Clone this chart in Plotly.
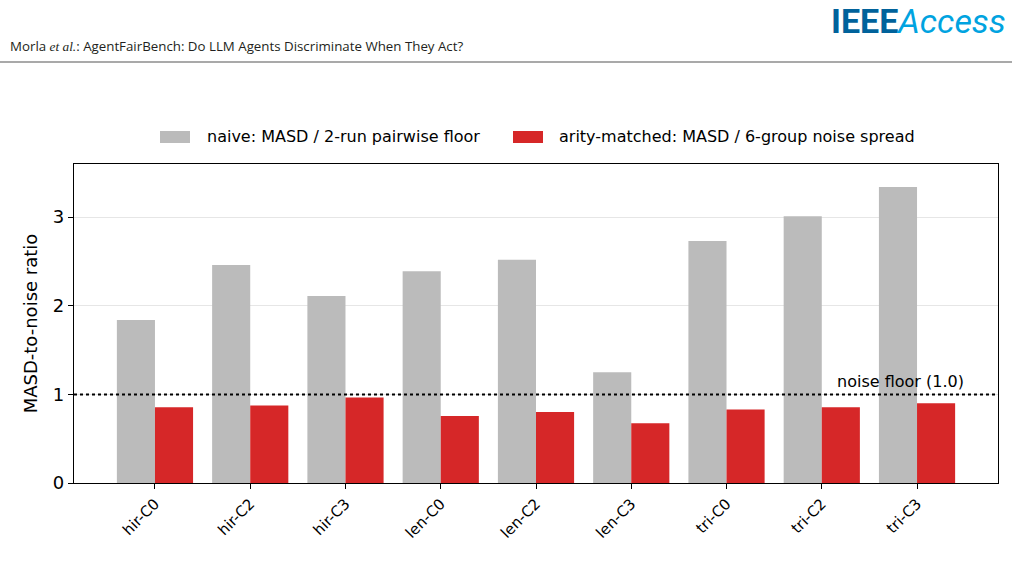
import plotly.graph_objects as go

categories = ["hir-C0", "hir-C2", "hir-C3", "len-C0", "len-C2", "len-C3", "tri-C0", "tri-C2", "tri-C3"]
naive = [1.84, 2.46, 2.11, 2.39, 2.52, 1.25, 2.73, 3.01, 3.34]
arity = [0.855, 0.875, 0.965, 0.755, 0.80, 0.675, 0.83, 0.855, 0.90]
series_names = ["naive: MASD / 2-run pairwise floor", "arity-matched: MASD / 6-group noise spread"]
series_colors = ["#bbbbbb", "#d62728"]
y_ticks = [0, 1, 2, 3]
noise_floor = 1.0

W, H = 1019, 577
L, R, T, B = 74, 21, 164, 94
pw, ph = W - L - R, H - T - B

def px_x(x):
    return (x - L) / pw

def px_y(y):
    return (H - B - y) / ph

FONT = "DejaVu Sans"

fig = go.Figure()
for vals, name, col in zip([naive, arity], series_names, series_colors):
    fig.add_trace(go.Bar(x=categories, y=vals, name=name, showlegend=False,
                         marker=dict(color=col, line=dict(width=0))))

# manual legend (wide swatches like the reference)
legend_pos = [(160, 190, 205), (513, 543, 557)]
for (sx0, sx1, tx), name, col in zip(legend_pos, series_names, series_colors):
    fig.add_shape(type="rect", xref="paper", yref="paper", x0=px_x(sx0), x1=px_x(sx1),
                  y0=px_y(143), y1=px_y(131), fillcolor=col, line=dict(width=0))
    fig.add_annotation(xref="paper", yref="paper", x=px_x(tx), y=px_y(137), xanchor="left", yanchor="middle",
                       text=name, showarrow=False, font=dict(family=FONT, size=16, color="black"))

fig.add_shape(type="line", xref="paper", yref="y", x0=0, x1=1, y0=noise_floor, y1=noise_floor,
              line=dict(color="black", width=2, dash="dot"))
fig.add_annotation(xref="paper", yref="y", x=px_x(966), y=noise_floor, yshift=13,
                   text="noise floor (1.0)", showarrow=False, xanchor="right", yanchor="middle",
                   font=dict(family=FONT, size=16, color="black"))

# page header
fig.add_annotation(xref="paper", yref="paper", x=px_x(8), y=px_y(46), xanchor="left", yanchor="middle",
                   text='Morla <span style="font-family:Liberation Serif;font-style:italic">et al.</span>: AgentFairBench: Do LLM Agents Discriminate When They Act?',
                   showarrow=False, font=dict(family="Open Sans", size=13.3, color="#231f20"))
fig.add_shape(type="line", xref="paper", yref="paper", x0=px_x(0), x1=px_x(1012), y0=px_y(62), y1=px_y(62),
              line=dict(color="#555555", width=1.2))
fig.add_annotation(xref="paper", yref="paper", x=px_x(1008), y=px_y(21), xanchor="right", yanchor="middle",
                   text='<span style="color:#00629b;font-weight:bold">IEEE</span><span style="color:#00a3e0;font-style:italic">Access</span>',
                   showarrow=False, font=dict(family="Roboto", size=34))

fig.update_layout(
    width=W, height=H,
    margin=dict(l=L, r=R, t=T, b=B, autoexpand=False),
    paper_bgcolor="white", plot_bgcolor="white",
    barmode="group", bargap=0.2, bargroupgap=0,
    font=dict(family=FONT, color="black"),
    showlegend=False,
)
fig.update_xaxes(range=[-0.85, 8.85], showline=True, linecolor="black", linewidth=1.2, mirror=True,
                 ticks="outside", ticklen=5, tickcolor="black", tickangle=-45,
                 tickfont=dict(family=FONT, size=15), showgrid=False)
fig.update_yaxes(range=[0, 3.6], tickvals=y_ticks, showline=True, linecolor="black", linewidth=1.2, mirror=True,
                 ticks="outside", ticklen=5, tickcolor="black", tickfont=dict(family=FONT, size=18),
                 showgrid=True, gridcolor="#e6e6e6", gridwidth=1, zeroline=False,
                 title=dict(text="MASD-to-noise ratio", font=dict(family=FONT, size=18), standoff=10))

fig.write_html("out.html")
